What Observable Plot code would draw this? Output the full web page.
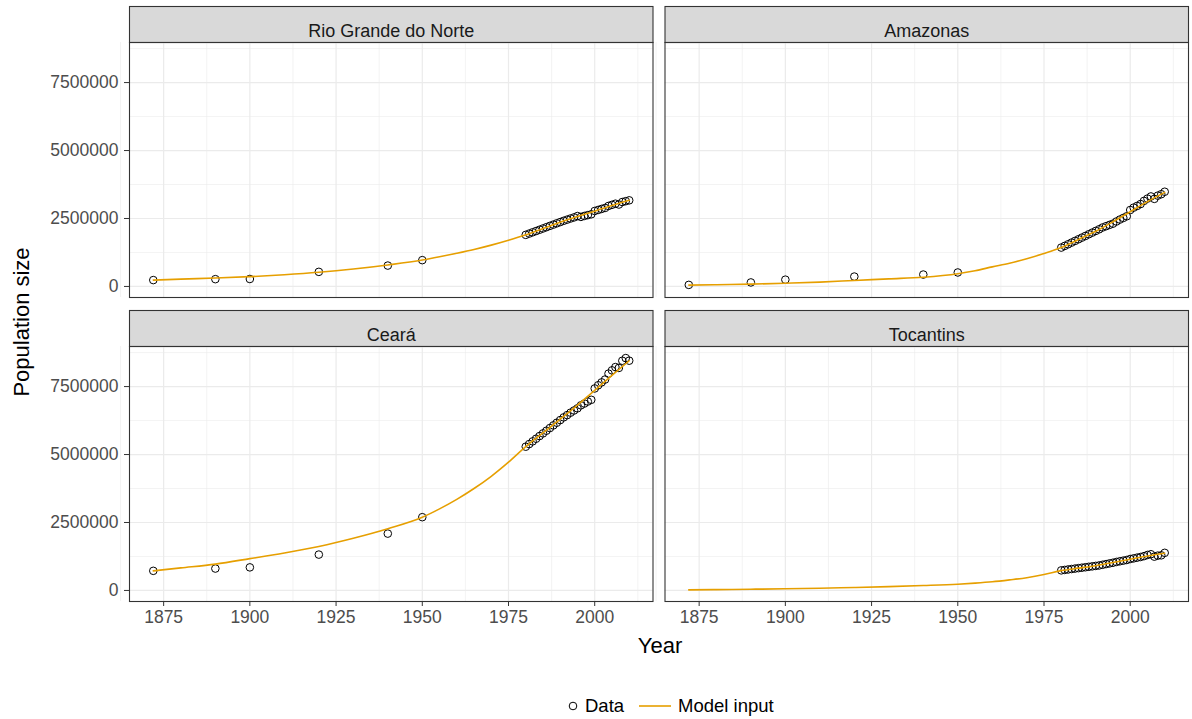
<!DOCTYPE html>
<html>
<head>
<meta charset="utf-8">
<script src="https://cdn.jsdelivr.net/npm/d3@7"></script>
<script src="https://cdn.jsdelivr.net/npm/@observablehq/plot@0.6"></script>
<style>
  body { margin: 0; background: #fff; font-family: "Liberation Sans", Arial, sans-serif; }
  #wrap { position: relative; width: 1192px; height: 719px; background: #fff; }
  #chart { position: absolute; left: 0; top: 0; }
  #ytitle { position: absolute; left: 22px; top: 322px; transform: translate(-50%, -50%) rotate(-90deg);
            font-size: 22px; white-space: nowrap; color: #000; }
  #xtitle { position: absolute; left: 660px; top: 646px; transform: translate(-50%, -50%);
            font-size: 22px; color: #000; }
  #legend { position: absolute; left: 566px; top: 694px; height: 24px; display: flex; align-items: center;
            font-size: 18.5px; color: #000; }
  #legend svg { display: block; }
</style>
</head>
<body>
<div id="wrap">
  <div id="chart"></div>
  <div id="ytitle">Population size</div>
  <div id="xtitle">Year</div>
  <div id="legend">
    <svg width="14" height="14"><circle cx="7" cy="7" r="3.8" fill="none" stroke="#000" stroke-width="1"></circle></svg>
    <span style="margin-left:5px">Data</span>
    <svg width="52" height="14"><line x1="15" x2="47" y1="7" y2="7" stroke="#E69F00" stroke-width="1.6"></line></svg>
    <span style="margin-left:2px">Model input</span>
  </div>
</div>
<script>
// ---------- data ----------
const states = ["Rio Grande do Norte", "Amazonas", "Ceará", "Tocantins"];

const dataYears = [1872, 1890, 1900, 1920, 1940, 1950,
  1980, 1981, 1982, 1983, 1984, 1985, 1986, 1987, 1988, 1989, 1990,
  1991, 1992, 1993, 1994, 1995, 1996, 1997, 1998, 1999, 2000,
  2001, 2002, 2003, 2004, 2005, 2006, 2007, 2008, 2009, 2010];

const dataRN = [233979, 268273, 274317, 537135, 768018, 967921,
  1898172, 1945000, 1992000, 2039000, 2086000, 2133000, 2180000, 2228000, 2275000, 2322000, 2369000,
  2415567, 2458000, 2500000, 2540000, 2590000, 2558660, 2594000, 2624000, 2655000, 2776782,
  2815000, 2852000, 2888000, 2962000, 3003000, 3044000, 3013740, 3106430, 3137541, 3168027];

const dataAM = [57610, 147915, 249756, 363166, 438008, 514099,
  1430089, 1491000, 1552000, 1614000, 1675000, 1736000, 1797000, 1858000, 1920000, 1981000, 2042000,
  2103243, 2170000, 2217000, 2265000, 2310000, 2389279, 2460602, 2520684, 2580860, 2812557,
  2900240, 2961801, 3031079, 3148420, 3232330, 3311026, 3221939, 3341096, 3393369, 3483985];

const dataCE = [721686, 805687, 849127, 1319228, 2091032, 2695450,
  5288253, 5386000, 5484000, 5582000, 5680000, 5778000, 5876000, 5974000, 6072000, 6170000, 6268000,
  6366647, 6450000, 6540000, 6620000, 6700000, 6809794, 6876000, 6950000, 7013000, 7430661,
  7547620, 7654540, 7758441, 7976563, 8097276, 8217085, 8185286, 8450527, 8547809, 8452381];

const dataTO = [null, null, null, null, null, null,
  738688, 755000, 772000, 788000, 805000, 821000, 837000, 854000, 870000, 887000, 903000,
  919863, 945000, 970000, 995000, 1020000, 1048642, 1073000, 1097000, 1120000, 1157098,
  1180000, 1207000, 1231000, 1262000, 1306000, 1332000, 1243627, 1280509, 1292051, 1383445];

const modelYears = [1872, 1880, 1890, 1900, 1910, 1920, 1930, 1940, 1950, 1955, 1960, 1965, 1970, 1975,
  1980, 1985, 1990, 1995, 2000, 2005, 2010];

const modelRN = [234000, 270000, 310000, 360000, 430000, 520000, 640000, 790000, 970000, 1090000, 1220000, 1360000, 1520000, 1700000,
  1900000, 2130000, 2360000, 2570000, 2770000, 2980000, 3170000];
const modelAM = [50000, 65000, 85000, 120000, 160000, 220000, 280000, 340000, 470000, 580000, 720000, 855000, 1020000, 1210000,
  1430000, 1730000, 2030000, 2380000, 2750000, 3120000, 3460000];
const modelCE = [720000, 830000, 970000, 1170000, 1380000, 1620000, 1920000, 2270000, 2690000, 3000000, 3350000, 3750000, 4200000, 4720000,
  5290000, 5800000, 6300000, 6820000, 7360000, 7910000, 8450000];
const modelTO = [20000, 30000, 45000, 60000, 80000, 110000, 140000, 180000, 230000, 270000, 320000, 390000, 470000, 585000,
  730000, 820000, 910000, 1030000, 1150000, 1270000, 1370000];

const xTicks = [1875, 1900, 1925, 1950, 1975, 2000];
const xMinor = [1862.5, 1887.5, 1912.5, 1937.5, 1962.5, 1987.5, 2012.5];
const yTicks = [0, 2500000, 5000000, 7500000];
const yMinor = [1250000, 3750000, 6250000, 8750000];

// ---------- tables ----------
const dataSeries = [dataRN, dataAM, dataCE, dataTO];
const modelSeries = [modelRN, modelAM, modelCE, modelTO];
const panels = states.map((name, i) => ({name, col: i % 2, row: Math.floor(i / 2)}));

const points = [];
dataSeries.forEach((vals, i) => vals.forEach((v, j) => {
  if (v != null) points.push({state: states[i], col: i % 2, row: Math.floor(i / 2), year: dataYears[j], pop: v});
}));
const model = [];
modelSeries.forEach((vals, i) => vals.forEach((v, j) => {
  model.push({state: states[i], col: i % 2, row: Math.floor(i / 2), year: modelYears[j], pop: v});
}));

// ggplot-like 5% expansion
const allX = points.map(d => d.year).concat(model.map(d => d.year));
const allY = points.map(d => d.pop).concat(model.map(d => d.pop));
const [x0, x1] = d3.extent(allX), [y0, y1] = d3.extent(allY);
const xDom = [x0 - 0.05 * (x1 - x0), x1 + 0.05 * (x1 - x0)];
const yDom = [y0 - 0.05 * (y1 - y0), y1 + 0.05 * (y1 - y0)];

// ---------- layout ----------
const W = 1192, H = 665, mL = 129, mR = 4, mT = 42, mB = 64;
const gapX = 12, gapY = 49, stripH = 36;
const innerW = W - mL - mR, innerH = H - mT - mB;
const fxPad = gapX / ((innerW + gapX) / 2);
const fyPad = gapY / ((innerH + gapY) / 2);
const bandH = (innerH - gapY) / 2;

const font = "'Liberation Sans', Arial, sans-serif";

const chart = Plot.plot({
  width: W, height: H,
  marginLeft: mL, marginRight: mR, marginTop: mT, marginBottom: mB,
  style: {fontFamily: font, background: "#fff", overflow: "visible"},
  fx: {axis: null, domain: [0, 1], paddingInner: fxPad, paddingOuter: 0, round: false},
  fy: {axis: null, domain: [0, 1], paddingInner: fyPad, paddingOuter: 0, round: false},
  x: {domain: xDom, nice: false},
  y: {domain: yDom, nice: false},
  marks: [
    Plot.frame({fill: "#d9d9d9", stroke: "#333333", strokeWidth: 1.1, insetTop: -stripH, insetBottom: bandH}),
    Plot.gridX({ticks: xMinor, stroke: "#ebebeb", strokeOpacity: 1, strokeWidth: 0.6}),
    Plot.gridY({ticks: yMinor, stroke: "#ebebeb", strokeOpacity: 1, strokeWidth: 0.6}),
    Plot.gridX({ticks: xTicks, stroke: "#ebebeb", strokeOpacity: 1, strokeWidth: 1.2}),
    Plot.gridY({ticks: yTicks, stroke: "#ebebeb", strokeOpacity: 1, strokeWidth: 1.2}),
    Plot.dot(points, {x: "year", y: "pop", fx: "col", fy: "row", r: 3.8, stroke: "#000", strokeWidth: 1, fill: "none"}),
    Plot.line(model, {x: "year", y: "pop", fx: "col", fy: "row", z: "state", stroke: "#E69F00", strokeWidth: 1.6, curve: "monotone-x"}),
    Plot.frame({stroke: "#333333", strokeWidth: 1.1}),
    Plot.axisX({ticks: xTicks, tickFormat: d => String(d), tickSize: 5, tickPadding: 4, fontSize: 17.5,
                label: null, color: "#4d4d4d", stroke: "#333333"}),
    Plot.axisY({ticks: yTicks, tickFormat: d => String(d), tickSize: 5, tickPadding: 6, fontSize: 17.5,
                label: null, color: "#4d4d4d", stroke: "#333333"}),
    Plot.text(panels, {fx: "col", fy: "row", text: "name", frameAnchor: "top", dy: -stripH / 2,
                       fontSize: 18, fill: "#1a1a1a"})
  ]
});
document.getElementById("chart").appendChild(chart);
</script>
</body>
</html>
